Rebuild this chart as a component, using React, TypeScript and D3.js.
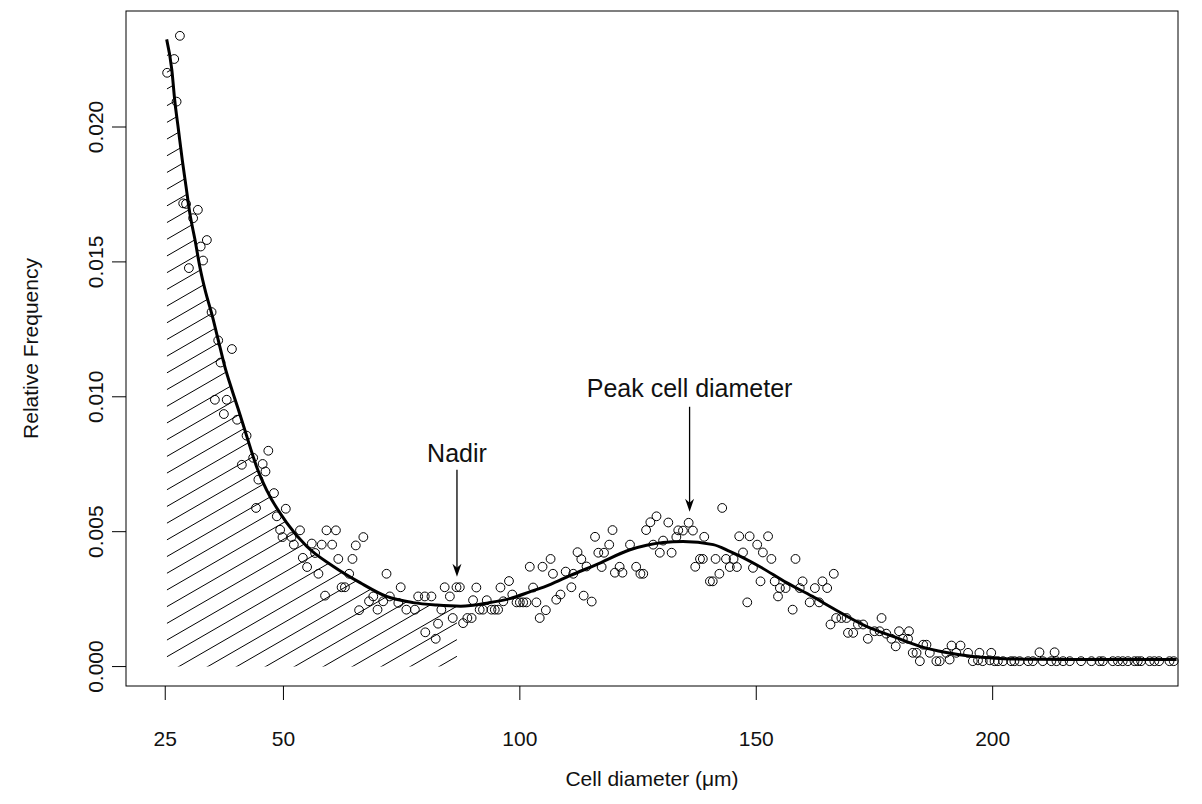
import React from "react";
import * as d3 from "d3";

// ---- data ----
const diameter = [
  25.4, 26.9, 27.4, 28.1, 28.8, 29.4, 30.0, 30.9, 31.9, 32.5, 33.0, 33.8, 34.8, 35.5, 36.2, 36.7, 37.4, 38.0, 39.1, 40.2,
  41.2, 42.2, 43.6, 44.2, 44.7, 45.6, 46.2, 46.8,
  48.0, 48.6, 49.3, 49.8, 50.5, 51.7, 52.2, 53.5, 54.1, 55.0, 56.0, 56.7, 57.4, 58.1, 58.8, 59.1, 60.3, 61.1, 61.6, 62.3,
  63.0, 63.9, 64.6, 65.3, 66.0, 66.9, 68.1, 69.0, 69.9, 71.1, 71.8, 72.5, 74.3, 74.8, 76.0, 77.8, 78.5, 79.9, 80.0, 81.3,
  82.2, 82.7, 83.4, 84.1, 85.2, 85.8, 86.6, 87.3, 88.0, 88.9,
  89.8, 90.1, 90.8, 91.5, 92.2, 93.0, 94.0, 94.7, 95.4, 95.9, 96.5, 97.7, 98.4, 99.3, 100.0, 100.7, 101.4, 102.1, 102.8,
  103.5, 104.2, 104.8, 105.5, 106.5, 107.0, 107.7, 108.6, 109.7, 110.9, 111.3, 112.2, 113.0, 113.5, 114.1, 115.2, 115.9,
  116.6, 117.3, 117.8, 118.9, 119.6, 120.1, 121.1, 121.7, 123.3, 124.6, 125.5, 126.1, 126.7, 127.6, 128.2, 128.9, 129.6,
  130.3, 131.4, 132.1, 133.1, 133.5, 134.5, 135.7, 136.6, 137.1, 138.1, 138.7, 139.0,
  140.2, 140.8, 141.4, 142.2, 142.8, 143.6, 144.4, 145.2, 145.9, 146.4, 147.2, 148.1, 148.6, 149.3, 150.2, 150.9, 151.4,
  152.5, 153.2, 153.9, 154.6, 155.0, 156.2, 157.7, 158.3, 159.2, 159.8, 161.3, 162.4, 163.3, 164.0, 165.0, 165.7, 166.4,
  166.9, 168.0, 169.1, 169.4, 170.5, 171.5, 172.6, 173.6, 175.0, 176.1, 176.5, 177.5, 178.6, 179.5, 180.2, 181.0, 182.1,
  182.3, 183.1, 183.9, 184.6, 185.3, 186.0, 186.7, 188.1, 188.8, 190.2,
  190.9, 191.3, 192.3, 193.2, 194.8, 195.8, 196.9, 197.2, 197.9, 199.4, 199.7, 200.4, 201.1, 202.2, 203.9, 204.6, 205.7,
  207.5, 208.5, 209.9, 210.6, 212.4, 213.1, 213.5, 214.9, 216.3, 218.7, 220.9, 222.6, 223.3, 225.4, 226.5, 227.5, 228.6,
  230.0, 230.7, 231.4, 233.2, 234.2, 235.2, 237.4, 238.3,
];
const frequency = [
  0.02201, 0.02252, 0.02094, 0.02338, 0.01717, 0.01715, 0.01477, 0.01662, 0.01693, 0.01557, 0.01505, 0.01581, 0.01314,
  0.00989, 0.01209, 0.01127, 0.00936, 0.00989, 0.01177, 0.00915, 0.00748, 0.00856, 0.00774, 0.00588, 0.00693, 0.00751,
  0.00723, 0.00800,
  0.00643, 0.00557, 0.00507, 0.00480, 0.00585, 0.00480, 0.00452, 0.00505, 0.00403, 0.00369, 0.00456, 0.00421, 0.00344,
  0.00452, 0.00263, 0.00505, 0.00452, 0.00505, 0.00399, 0.00294, 0.00294, 0.00344, 0.00399, 0.00449, 0.00209, 0.00480,
  0.00242, 0.00260, 0.00211, 0.00242, 0.00344, 0.00260, 0.00236, 0.00294, 0.00211, 0.00211, 0.00260, 0.00260, 0.00127,
  0.00260, 0.00103, 0.00159, 0.00211, 0.00294, 0.00260, 0.00180, 0.00294, 0.00294, 0.00161, 0.00180,
  0.00180, 0.00246, 0.00293, 0.00211, 0.00211, 0.00246, 0.00211, 0.00211, 0.00211, 0.00293, 0.00242, 0.00317, 0.00267,
  0.00238, 0.00238, 0.00238, 0.00238, 0.00370, 0.00293, 0.00238, 0.00180, 0.00370, 0.00209, 0.00399, 0.00344, 0.00248,
  0.00267, 0.00352, 0.00294, 0.00344, 0.00424, 0.00398, 0.00263, 0.00371, 0.00241, 0.00481, 0.00422, 0.00369, 0.00422,
  0.00452, 0.00506, 0.00348, 0.00370, 0.00348, 0.00452, 0.00370, 0.00344, 0.00344, 0.00506, 0.00535, 0.00452, 0.00557,
  0.00422, 0.00467, 0.00534, 0.00422, 0.00480, 0.00505, 0.00504, 0.00533, 0.00504, 0.00370, 0.00399, 0.00399, 0.00481,
  0.00316, 0.00316, 0.00399, 0.00344, 0.00588, 0.00399, 0.00369, 0.00399, 0.00369, 0.00483, 0.00423, 0.00238, 0.00483,
  0.00366, 0.00452, 0.00316, 0.00423, 0.00483, 0.00399, 0.00316, 0.00260, 0.00291, 0.00291, 0.00211, 0.00399, 0.00291,
  0.00316, 0.00238, 0.00291, 0.00238, 0.00316, 0.00291, 0.00156, 0.00344, 0.00180, 0.00180, 0.00180, 0.00125, 0.00125,
  0.00156, 0.00156, 0.00103, 0.00131, 0.00131, 0.00180, 0.00122, 0.00103, 0.00075, 0.00131, 0.00103, 0.00103, 0.00131,
  0.00051, 0.00051, 0.00020, 0.00081, 0.00081, 0.00051, 0.00020, 0.00020, 0.00051,
  0.00026, 0.00078, 0.00051, 0.00078, 0.00051, 0.00020, 0.00023, 0.00051, 0.00020, 0.00023, 0.00051, 0.00020, 0.00020,
  0.00020, 0.00020, 0.00020, 0.00020, 0.00020, 0.00020, 0.00053, 0.00020, 0.00020, 0.00053, 0.00020, 0.00020, 0.00020,
  0.00020, 0.00020, 0.00020, 0.00020, 0.00020, 0.00020, 0.00020, 0.00020, 0.00020, 0.00020, 0.00020, 0.00020, 0.00020,
  0.00020, 0.00020, 0.00020,
];

// fitted density curve
const curveX = [
  25.3, 26.4, 27.0, 27.8, 28.6, 29.4, 30.2, 31.3, 32.3, 33.6, 34.8, 36.2, 37.6, 39.1, 40.7, 42.2, 44.3, 46.4, 50.7, 54.9,
  60.5, 66.2, 71.8, 77.4, 82.4, 87.5, 93.3, 97.9, 102.1, 106.5, 110.6, 116.2, 123.3, 130.3, 134.5, 140.9, 144.4, 150.7,
  156.4, 161.9, 166.2, 173.3, 178.9, 184.6, 190.2, 195.8, 201.5, 210, 220, 230, 238.9,
];
const curveY = [
  0.02325, 0.02211, 0.021, 0.01989, 0.01878, 0.01779, 0.0168, 0.01581, 0.01483, 0.01384, 0.0131, 0.01211, 0.01112,
  0.01026, 0.0094, 0.00856, 0.00742, 0.00656, 0.00533, 0.00446, 0.00372, 0.00311, 0.0026, 0.00237, 0.00228, 0.00224,
  0.00236, 0.00252, 0.00277, 0.00305, 0.00337, 0.00378, 0.00433, 0.0046, 0.00464, 0.00452, 0.00427, 0.00371, 0.00311,
  0.0026, 0.00216, 0.00149, 0.00112, 0.00075, 0.00052, 0.00037, 0.0003, 0.00027, 0.00026, 0.00026, 0.00026,
];

const xTicks = [25, 50, 100, 150, 200];
const yTicks = [0, 0.005, 0.01, 0.015, 0.02];
const yTickLabels = ["0.000", "0.005", "0.010", "0.015", "0.020"];

const nadirX = 86.7;
const peakX = 135.9;
const annotations = [
  { label: "Nadir", x: nadirX, textY: 0.00791, arrowTop: 0.0073, arrowTip: 0.00333 },
  { label: "Peak cell diameter", x: peakX, textY: 0.01033, arrowTop: 0.00963, arrowTip: 0.00574 },
];

const xDomain = [16.7, 239.2];
const yDomain = [-0.00072, 0.0243];

export default function App() {
  const W = 1202,
    H = 804;
  const left = 126,
    right = 1178,
    top = 11,
    bottom = 686;
  const font = "'Liberation Sans', Arial, sans-serif";
  const fs = 21;
  const fsNote = 25;

  const x = d3.scaleLinear().domain(xDomain).range([left, right]);
  const y = d3.scaleLinear().domain(yDomain).range([bottom, top]);

  const pts = curveX.map((cx, i) => [cx, curveY[i]] as [number, number]);
  const line = d3
    .line<[number, number]>()
    .x((d) => x(d[0]))
    .y((d) => y(d[1]))
    .curve(d3.curveMonotoneX);
  const area = d3
    .area<[number, number]>()
    .x((d) => x(d[0]))
    .y0(y(0))
    .y1((d) => y(d[1]))
    .curve(d3.curveMonotoneX);

  // hatch lines (~30 degrees)
  const hx0 = x(curveX[0]);
  const hx1 = x(nadirX);
  const slope = Math.tan((30 * Math.PI) / 180);
  const step = 16.7;
  const hatch: number[] = [];
  for (let c = y(0.0245); c <= y(0) + slope * (hx1 - hx0) + step; c += step) hatch.push(c);

  const tickLen = 14;

  return (
    <svg
      width={W}
      height={H}
      style={{ position: "absolute", left: 0, top: 0, background: "#fff" }}
      fontFamily={font}
    >
      <defs>
        <clipPath id="under">
          <path d={area(pts) || ""} />
        </clipPath>
        <clipPath id="range">
          <rect x={hx0} y={top} width={hx1 - hx0} height={bottom - top} />
        </clipPath>
      </defs>
      <rect x={0} y={0} width={W} height={H} fill="#fff" />

      {/* hatched area */}
      <g clipPath="url(#range)">
        <g clipPath="url(#under)">
          {hatch.map((c, i) => (
            <line
              key={i}
              x1={hx0}
              y1={c}
              x2={hx1}
              y2={c - slope * (hx1 - hx0)}
              stroke="#000"
              strokeWidth={1}
            />
          ))}
        </g>
      </g>

      {/* points */}
      {diameter.map((d, i) => (
        <circle key={i} cx={x(d)} cy={y(frequency[i])} r={4.4} fill="none" stroke="#000" strokeWidth={1} />
      ))}

      {/* curve */}
      <path d={line(pts) || ""} fill="none" stroke="#000" strokeWidth={3} strokeLinejoin="round" />

      {/* annotations */}
      {annotations.map((a) => {
        const ax = x(a.x);
        const ty = y(a.arrowTip);
        return (
          <g key={a.label}>
            <text x={ax} y={y(a.textY)} textAnchor="middle" dominantBaseline="central" fontSize={fsNote} fill="#111">
              {a.label}
            </text>
            <line x1={ax} y1={y(a.arrowTop)} x2={ax} y2={ty - 6} stroke="#000" strokeWidth={1.3} />
            <path
              d={`M${ax},${ty} L${ax - 4.5},${ty - 13} L${ax},${ty - 9} L${ax + 4.5},${ty - 13} Z`}
              fill="#000"
            />
          </g>
        );
      })}

      {/* box */}
      <rect x={left} y={top} width={right - left} height={bottom - top} fill="none" stroke="#000" strokeWidth={1} />

      {/* x axis */}
      {xTicks.map((t) => (
        <g key={t}>
          <line x1={x(t)} x2={x(t)} y1={bottom} y2={bottom + tickLen} stroke="#000" />
          <text x={x(t)} y={738} textAnchor="middle" dominantBaseline="central" fontSize={fs} fill="#111">
            {t}
          </text>
        </g>
      ))}

      {/* y axis */}
      {yTicks.map((t, i) => (
        <g key={t}>
          <line x1={left - tickLen} x2={left} y1={y(t)} y2={y(t)} stroke="#000" />
          <text
            transform={`translate(95,${y(t)}) rotate(-90)`}
            textAnchor="middle"
            dominantBaseline="central"
            fontSize={fs}
            fill="#111"
          >
            {yTickLabels[i]}
          </text>
        </g>
      ))}

      <text x={(left + right) / 2} y={778} textAnchor="middle" dominantBaseline="central" fontSize={fs} fill="#111">
        Cell diameter (μm)
      </text>
      <text
        transform={`translate(30,${(top + bottom) / 2}) rotate(-90)`}
        textAnchor="middle"
        dominantBaseline="central"
        fontSize={fs}
        fill="#111"
      >
        Relative Frequency
      </text>
    </svg>
  );
}
